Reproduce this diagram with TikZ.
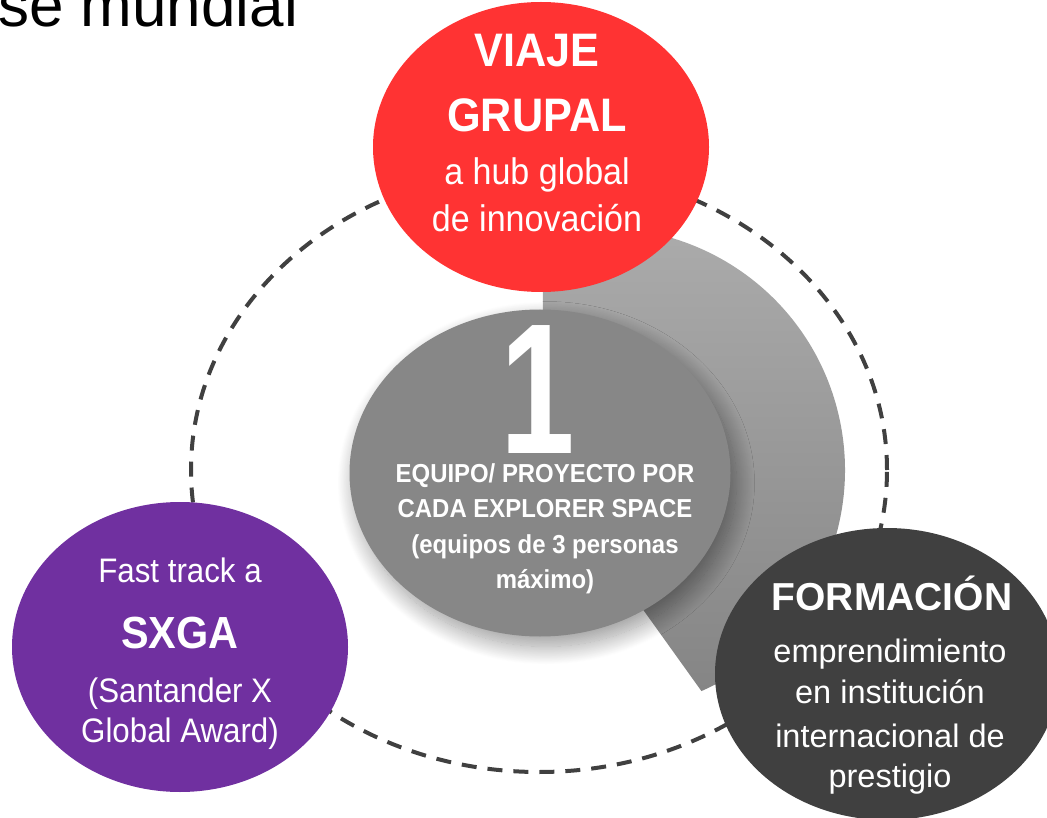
\documentclass[tikz,border=0pt]{standalone}
\usepackage{fontspec}
\setmainfont{Liberation Sans}
\newfontfamily\rob{Liberation Sans}[FakeStretch=0.92]
\newfontfamily\robn{Liberation Sans}[FakeStretch=0.72]
\usetikzlibrary{shapes.geometric,shadows.blur}
\definecolor{redc}{HTML}{FF3333}
\definecolor{purplec}{HTML}{7030A0}
\definecolor{darkc}{HTML}{404040}
\definecolor{grayc}{HTML}{878787}
\definecolor{wedgetop}{HTML}{ADADAD}
\definecolor{wedgebot}{HTML}{858585}
\definecolor{dashc}{HTML}{404040}
\tikzset{
  blob/.style={ellipse, draw=none, inner sep=0pt},
  txt/.style={text=white, inner sep=0pt, anchor=base},
  ring/.style={draw=dashc, line width=4pt, dash pattern=on 15pt off 11pt},
}
\newcommand{\fs}[1]{\fontsize{#1}{#1}\selectfont}
\begin{document}
\begin{tikzpicture}[x=1pt,y=-1pt]
\useasboundingbox (0,0) rectangle (1047,818);
\clip (0,0) rectangle (1047,818);
% title fragment
\node[inner sep=0pt, anchor=base west] (title) at (-2,27) {\fs{62}se mundial};
% dashed ring
\node[blob, ring, minimum width=696pt, minimum height=604pt] (ringn) at (539,470) {};
% wedge
\coordinate (wc) at (603,470);
\coordinate (wa) at (543,470);
\shade[top color=wedgetop, bottom color=wedgebot]
  (wa) -- ($(wc)+(-104.4:242)$) arc[start angle=-104.4, end angle=66, radius=242] -- cycle;
% red
\node[blob, fill=redc, minimum width=336pt, minimum height=290pt] (red) at (541,147) {};
\node[txt] (r1) at (537,67) {\rob\bfseries\fs{47}VIAJE};
\node[txt] (r2) at (537,132) {\rob\bfseries\fs{47}GRUPAL};
\node[txt] (r3) at (537,185) {\rob\fs{37}a hub global};
\node[txt] (r4) at (537,232) {\rob\fs{37}de innovación};
% center
\node[blob, fill=grayc, minimum width=381pt, minimum height=327pt,
  blur shadow={shadow xshift=6pt, shadow yshift=-10pt, shadow blur radius=18pt, shadow blur steps=30, shadow opacity=40}] (ctr) at (540,473) {};
\node[txt] (c0) at (538,453) {\robn\bfseries\fs{186}1};
\node[txt] (c1) at (545,482) {\rob\bfseries\fs{26}EQUIPO/ PROYECTO POR};
\node[txt] (c2) at (545,517) {\rob\bfseries\fs{26}CADA EXPLORER SPACE};
\node[txt] (c3) at (545,553) {\rob\bfseries\fs{26}(equipos de 3 personas};
\node[txt] (c4) at (545,588) {\rob\bfseries\fs{26}máximo)};
% purple
\node[blob, fill=purplec, minimum width=336pt, minimum height=290pt] (pur) at (180,647) {};
\node[txt] (p1) at (180,582) {\rob\fs{34}Fast track a};
\node[txt] (p2) at (180,648) {\rob\bfseries\fs{45}SXGA};
\node[txt] (p3) at (180,702) {\rob\fs{34}(Santander X};
\node[txt] (p4) at (180,742) {\rob\fs{34}Global Award)};
% dark
\node[blob, fill=darkc, minimum width=344pt, minimum height=292pt] (dark) at (887,674) {};
\node[txt] (d1) at (892,610) {\bfseries\fs{39}FORMACIÓN};
\node[txt] (d2) at (890,662) {\fs{32.5}emprendimiento};
\node[txt] (d3) at (890,703) {\fs{32.5}en institución};
\node[txt] (d4) at (890,747) {\fs{32.5}internacional de};
\node[txt] (d5) at (890,787) {\fs{32.5}prestigio};
\end{tikzpicture}
\end{document}
